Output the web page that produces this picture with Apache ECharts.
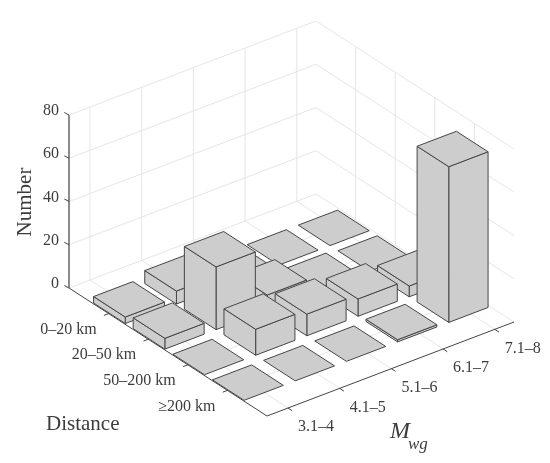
<!DOCTYPE html>
<html><head><meta charset="utf-8">
<style>html,body{margin:0;padding:0;background:#fff}#c{width:550px;height:463px}</style>
<script src="https://cdn.jsdelivr.net/npm/echarts@6/dist/echarts.min.js"></script></head>
<body><div id="c"></div>
<script>
const distanceLabels = ['0–20 km','20–50 km','50–200 km','≥200 km'];
const mwgLabels = ['3.1–4','4.1–5','5.1–6','6.1–7','7.1–8'];
const numberTicks = [0,20,40,60,80];
const row0to20   = [3, 6, 3, 0, 0];
const row20to50  = [5, 29, 7, 1, 0];
const row50to200 = [0, 12, 10, 8, 5];
const rowOver200 = [0, 0, 0, 1, 72];
const rows = [row0to20,row20to50,row50to200,rowOver200];

const dRange=[0,5], mRange=[0.594,5.372], zRange=[0,80];
const barSpread=0.99;
const SERIF='"Liberation Serif","Times New Roman",serif';
const chart=echarts.init(document.getElementById('c'),null,{renderer:'canvas'});

function projector(api){
  return function(d,m,z){
    const p=api.coord([d,z]);               // distance and height from the hidden cartesian axes
    const t=echarts.number.linearMap(m,mRange,[0,1]);
    return [p[0]+t*247, p[1]+d*25.6-t*94];
  };
}
function poly(points,fill,stroke,w){
  return {type:'polygon',shape:{points},style:{fill:fill||'none',stroke,lineWidth:w||1,lineJoin:'round'}};
}
function line(a,b,stroke,w){
  return {type:'line',shape:{x1:a[0],y1:a[1],x2:b[0],y2:b[1]},style:{stroke,lineWidth:w||1}};
}
function text(s,x,y,o,extra){
  return Object.assign({type:'text',x,y,style:Object.assign({text:s,fill:'#3c3c3c',font:'16px '+SERIF,textAlign:'left',textVerticalAlign:'middle'},o||{})},extra||{});
}
const GRID='#e6e6e6',AX='#454545';
function renderFrame(params,api){
  const P=projector(api),ch=[];
  const d0=dRange[0],d1=dRange[1],m0=mRange[0],m1=mRange[1];
  numberTicks.forEach(z=>{
    ch.push(line(P(d0,m0,z),P(d0,m1,z),GRID));
    ch.push(line(P(d0,m1,z),P(d1,m1,z),GRID));
  });
  mwgLabels.forEach((label,i)=>{
    const m=i+1;
    ch.push(line(P(d0,m,0),P(d0,m,80),GRID));
    ch.push(line(P(d0,m,0),P(d1,m,0),GRID));
    const a=P(d1,m,0);
    ch.push(line(a,[a[0]+4.2,a[1]+2.7],AX));
    ch.push(text(label,a[0]+10,a[1]+19));
  });
  distanceLabels.forEach((label,i)=>{
    const d=i+1;
    ch.push(line(P(d,m1,0),P(d,m1,80),GRID));
    ch.push(line(P(d,m0,0),P(d,m1,0),GRID));
    const a=P(d,m0,0);
    ch.push(line(a,[a[0]-4.7,a[1]+1.8],AX));
    ch.push(text(label,a[0]-12,a[1]+16,{textAlign:'right'}));
  });
  ch.push(line(P(d0,m0,0),P(d0,m0,80),'#666',1.5));
  ch.push(line(P(d0,m0,0),P(d1,m0,0),AX));
  ch.push(line(P(d1,m0,0),P(d1,m1,0),AX));
  numberTicks.forEach(z=>{
    const a=P(d0,m0,z);
    ch.push(line(a,[a[0]-4.7,a[1]-2.5],AX));
    ch.push(text(String(z),a[0]-10,a[1]-4,{textAlign:'right'}));
  });
  ch.push(text('Number',25,202,{font:'21px '+SERIF,textAlign:'center'},{rotation:Math.PI/2}));
  ch.push(text('Distance',46,424,{font:'21px '+SERIF}));
  ch.push(text('M',390,432,{font:'italic 24px '+SERIF}));
  ch.push(text('wg',408,445,{font:'italic 17px '+SERIF}));
  return {type:'group',children:ch};
}
function renderBar(params,api){
  const P=projector(api);
  const d=api.value(0),m=api.value(1)*barSpread,z=api.value(2);
  const hd=0.4,hm=0.38;
  const dA=d-hd,dB=d+hd,mA=m-hm,mB=m+hm;
  const FILL='#cdcdcd',E='#454545';
  const kids=[];
  if(z>0){
    kids.push(poly([P(dB,mA,z),P(dB,mB,z),P(dB,mB,0),P(dB,mA,0)],FILL,E));
    kids.push(poly([P(dA,mA,z),P(dB,mA,z),P(dB,mA,0),P(dA,mA,0)],FILL,E));
  }
  kids.push(poly([P(dA,mA,z),P(dA,mB,z),P(dB,mB,z),P(dB,mA,z)],FILL,E));
  return {type:'group',children:kids};
}
const barData=[];
rows.forEach((r,di)=>{ for(let mi=r.length-1;mi>=0;mi--) barData.push([di+1,mi+1,r[mi]]); });

chart.setOption({
  animation:false,
  backgroundColor:'#fff',
  grid:{left:69,top:115,width:198,height:173,containLabel:false},
  xAxis:{type:'value',min:dRange[0],max:dRange[1],show:false},
  yAxis:{type:'value',min:zRange[0],max:zRange[1],show:false},
  series:[
    {type:'custom',name:'frame',silent:true,z:1,clip:false,data:[[0,0]],encode:{x:0,y:1},renderItem:renderFrame},
    {type:'custom',name:'Number',silent:true,z:2,clip:false,data:barData,dimensions:['distance','mwg','number'],encode:{x:0,y:2},renderItem:renderBar}
  ]
});
</script></body></html>
